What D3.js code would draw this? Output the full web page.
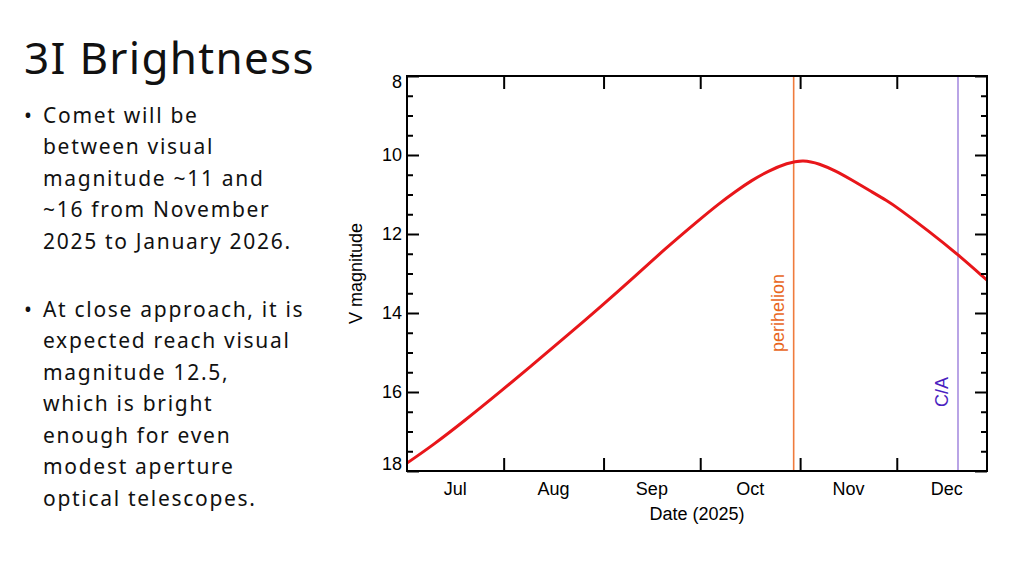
<!DOCTYPE html>
<html>
<head>
<meta charset="utf-8">
<script src="https://cdn.jsdelivr.net/npm/d3@7"></script>
<style>
  body { margin: 0; background: #fff; }
  svg { display: block; }
</style>
</head>
<body>
<svg id="chart" width="1024" height="575"></svg>
<script>
// slide text
const titleText = "3I Brightness";
const bullet1 = ["Comet will be", "between visual", "magnitude ~11 and", "~16 from November", "2025 to January 2026."];
const bullet2 = ["At close approach, it is", "expected reach visual", "magnitude 12.5,", "which is bright", "enough for even", "modest aperture", "optical telescopes."];

// brightness curve
const dates = ["2025-07-02", "2025-07-10", "2025-07-20", "2025-07-31", "2025-08-10", "2025-08-20",
  "2025-08-31", "2025-09-10", "2025-09-20", "2025-10-01", "2025-10-07", "2025-10-12",
  "2025-10-17", "2025-10-22", "2025-10-28", "2025-11-02", "2025-11-07", "2025-11-12",
  "2025-11-17", "2025-11-23", "2025-11-28", "2025-12-01", "2025-12-11", "2025-12-20",
  "2025-12-29"];
const mags = [17.80, 17.35, 16.72, 15.99, 15.31, 14.62, 13.85, 13.13, 12.38, 11.62, 11.22, 10.92,
  10.64, 10.41, 10.20, 10.12, 10.22, 10.40, 10.63, 10.92, 11.16, 11.32, 11.93, 12.52, 13.17];

// event markers
const events = ["perihelion", "C/A"];
const eventDates = ["2025-10-30", "2025-12-20"];

const monthLabels = ["Jul", "Aug", "Sep", "Oct", "Nov", "Dec"];
const yTicks = [8, 10, 12, 14, 16, 18];

const parseDate = d3.timeParse("%Y-%m-%d");
const svg = d3.select("#chart");
const margin = { top: 76, right: 37, bottom: 104, left: 407 };
const width = 1024, height = 575;

// left-hand text
svg.append("text")
  .attr("x", 24).attr("y", 74)
  .style("font-family", "Noto Sans")
  .style("font-size", "44px")
  .style("letter-spacing", "1.3px")
  .attr("fill", "#111")
  .text(titleText);

const drawBullet = (lines, y0) => {
  svg.append("text")
    .attr("x", 24).attr("y", y0)
    .style("font-family", "Noto Sans")
    .style("font-size", "21px")
    .attr("fill", "#111")
    .text("•");
  lines.forEach((line, i) => {
    svg.append("text")
      .attr("x", 43).attr("y", y0 + i * 31.5)
      .style("font-family", "Noto Sans")
      .style("font-size", "21px")
      .style("letter-spacing", "1.7px")
      .attr("fill", "#111")
      .text(line);
  });
};
drawBullet(bullet1, 122.5);
drawBullet(bullet2, 316.5);

// scales
const startDate = parseDate("2025-07-02");
const xScale = d3.scaleTime()
  .domain([startDate, parseDate("2025-12-29")])
  .range([margin.left, width - margin.right]);

const yScale = d3.scaleLinear()
  .domain([8, 18])
  .range([margin.top, height - margin.bottom]);

const x0 = margin.left, x1 = width - margin.right;
const y0 = margin.top, y1 = height - margin.bottom;

const plot = svg.append("g");

svg.append("defs").append("clipPath").attr("id", "clip")
  .append("rect")
  .attr("x", x0).attr("y", y0)
  .attr("width", x1 - x0).attr("height", y1 - y0);

// event lines and labels
const eventColors = ["#ef7b3c", "#8a68d6"];
const eventTextColors = ["#e8661c", "#4b1fc0"];
const eventLabelY = [313, 392];

events.forEach((name, i) => {
  const ex = xScale(parseDate(eventDates[i]));
  plot.append("line")
    .attr("x1", ex).attr("x2", ex)
    .attr("y1", y0).attr("y2", y1)
    .attr("stroke", eventColors[i])
    .attr("stroke-width", i === 0 ? 1.6 : 1.2);
  plot.append("text")
    .attr("transform", `translate(${ex - 10},${eventLabelY[i]}) rotate(-90)`)
    .attr("text-anchor", "middle")
    .style("font-family", "Liberation Sans")
    .style("font-size", "18px")
    .attr("fill", eventTextColors[i])
    .text(name);
});

// brightness line
const line = d3.line()
  .x((d, i) => xScale(parseDate(dates[i])))
  .y((d) => yScale(d))
  .curve(d3.curveBasis);

plot.append("path")
  .datum(mags)
  .attr("clip-path", "url(#clip)")
  .attr("d", line)
  .attr("fill", "none")
  .attr("stroke", "#e8161a")
  .attr("stroke-width", 3);

// axes (ticks drawn inward on all four sides)
const monthStarts = d3.timeMonth.range(parseDate("2025-08-01"), parseDate("2025-12-02"));

svg.append("g")
  .attr("transform", `translate(0,${y1})`)
  .call(d3.axisBottom(xScale).tickValues(monthStarts).tickSize(-13).tickFormat(""))
  .call((g) => g.select(".domain").remove());

svg.append("g")
  .attr("transform", `translate(0,${y0})`)
  .call(d3.axisTop(xScale).tickValues(monthStarts).tickSize(-13).tickFormat(""))
  .call((g) => g.select(".domain").remove());

const minorTicks = d3.range(8.5, 18, 0.5).filter((v) => v % 2 !== 0);

[[d3.axisLeft, x0], [d3.axisRight, x1]].forEach(([axisFn, ax]) => {
  svg.append("g")
    .attr("transform", `translate(${ax},0)`)
    .call(axisFn(yScale).tickValues(yTicks).tickSize(-12).tickFormat(""))
    .call((g) => g.select(".domain").remove());
  svg.append("g")
    .attr("transform", `translate(${ax},0)`)
    .call(axisFn(yScale).tickValues(minorTicks).tickSize(-6).tickFormat(""))
    .call((g) => g.select(".domain").remove());
});

svg.selectAll(".tick line").attr("stroke", "#000").attr("stroke-width", 2);

// frame
svg.append("rect")
  .attr("x", x0).attr("y", y0)
  .attr("width", x1 - x0).attr("height", y1 - y0)
  .attr("fill", "none")
  .attr("stroke", "#000")
  .attr("stroke-width", 2);

// tick labels
svg.selectAll("text.ylab")
  .data(yTicks)
  .enter()
  .append("text")
  .attr("class", "ylab")
  .attr("x", x0 - 5)
  .attr("y", (d) => Math.min(Math.max(yScale(d), y0 + 6), y1 - 7))
  .attr("dy", "0.36em")
  .attr("text-anchor", "end")
  .style("font-family", "Liberation Sans")
  .style("font-size", "18px")
  .text((d) => d);

// month names sit in the middle of each (visible) month
const monthMid = (i) => {
  const start = d3.timeMonth.offset(parseDate("2025-07-01"), i);
  const next = d3.timeMonth.offset(start, 1);
  const from = start < startDate ? startDate : start;
  return (xScale(from) + xScale(next)) / 2;
};

svg.selectAll("text.xlab")
  .data(monthLabels)
  .enter()
  .append("text")
  .attr("class", "xlab")
  .attr("x", (d, i) => monthMid(i))
  .attr("y", y1 + 24)
  .attr("text-anchor", "middle")
  .style("font-family", "Liberation Sans")
  .style("font-size", "18px")
  .text((d) => d);

// axis titles
svg.append("text")
  .attr("x", (x0 + x1) / 2)
  .attr("y", y1 + 49)
  .attr("text-anchor", "middle")
  .style("font-family", "Liberation Sans")
  .style("font-size", "18px")
  .text("Date (2025)");

svg.append("text")
  .attr("transform", `translate(362,${(y0 + y1) / 2}) rotate(-90)`)
  .attr("text-anchor", "middle")
  .style("font-family", "Liberation Sans")
  .style("font-size", "18px")
  .text("V magnitude");
</script>
</body>
</html>
